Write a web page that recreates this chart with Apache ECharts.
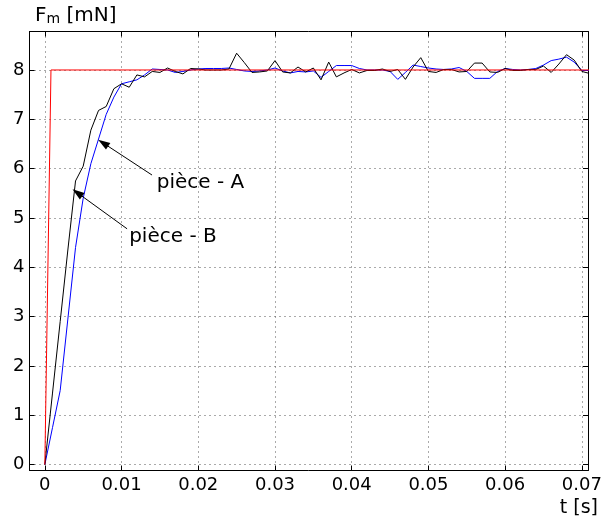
<!DOCTYPE html>
<html>
<head>
<meta charset="utf-8">
<script src="https://cdn.jsdelivr.net/npm/echarts@6/dist/echarts.min.js"></script>
<style>
html,body{margin:0;padding:0;background:#fff;}
#c{width:616px;height:522px;}
</style>
</head>
<body>
<div id="c"></div>
<script>
// ---- data ----
const times = [0,0.001,0.002,0.003,0.004,0.005,0.006,0.007,0.008,0.009,
  0.010,0.011,0.012,0.013,0.014,0.015,0.016,0.017,0.018,0.019,
  0.020,0.021,0.022,0.023,0.024,0.025,0.026,0.027,0.028,0.029,
  0.030,0.031,0.032,0.033,0.034,0.035,0.036,0.037,0.038,0.039,
  0.040,0.041,0.042,0.043,0.044,0.045,0.046,0.047,0.048,0.049,
  0.050,0.051,0.052,0.053,0.054,0.055,0.056,0.057,0.058,0.059,
  0.060,0.061,0.062,0.063,0.064,0.065,0.066,0.067,0.068,0.069,
  0.070,0.071];
const pieceA = [0,1.45,2.9,4.35,5.75,6.05,6.78,7.18,7.26,7.62,
  7.72,7.65,7.9,7.86,7.97,7.95,8.04,7.97,7.92,8.03,
  8.02,8.0,8.0,8.0,8.02,8.34,8.15,7.95,7.96,7.98,
  8.19,7.96,7.94,8.06,7.96,8.04,7.8,8.16,7.86,7.94,
  8.01,7.94,7.99,7.99,8.02,7.97,8.01,7.81,8.06,8.25,
  7.97,7.95,8.01,8.01,7.96,7.97,8.14,8.14,7.96,7.95,
  8.03,7.99,7.99,8.01,8.01,8.08,7.95,8.12,8.31,8.2,
  7.97,7.93];
const pieceB = [0,0.75,1.5,2.95,4.4,5.4,6.1,6.6,7.1,7.45,
  7.72,7.76,7.8,7.9,8.02,8.01,8.0,7.95,7.97,8.0,
  8.02,8.03,8.03,8.03,8.04,8.01,7.98,7.97,7.98,8.0,
  8.04,7.98,7.94,7.97,7.96,7.98,7.85,7.97,8.09,8.09,
  8.09,8.03,8.0,8.0,8.0,7.97,7.81,7.95,8.1,8.07,
  8.04,8.02,8.01,8.02,8.05,7.97,7.83,7.83,7.83,7.97,
  8.03,8.01,8.0,8.01,8.03,8.1,8.19,8.22,8.26,8.16,
  7.99,7.99];
const refT = [0, 0.0008, 0.071];
const refV = [0, 8, 8];
const xTicks = [0,0.01,0.02,0.03,0.04,0.05,0.06,0.07];
const yTicks = [0,1,2,3,4,5,6,7,8];
const labelA = 'pièce - A';
const labelB = 'pièce - B';
// annotation anchors (data units): [tail, tip]
const arrowA = [[0.01397,5.87],[0.0076,6.52]];
const arrowB = [[0.01072,4.78],[0.00424,5.51]];
const textA = [0.0142,5.71];
const textB = [0.0106,4.61];

const FONT = 'DejaVu Sans';
const chart = echarts.init(document.getElementById('c'), null, {renderer:'canvas'});

const grid = {left:29.5, right:28, top:31.5, bottom:51.5};
const XMIN=-0.002, XMAX=0.0708, YMIN=-0.12, YMAX=8.78;

const gridLine = {show:true, lineStyle:{color:'#555', type:[1,4], width:1}};
const axLine = {show:true, onZero:false, lineStyle:{color:'#000', width:1}};

const option = {
  animation:false,
  backgroundColor:'#fff',
  grid: grid,
  xAxis:[
    {type:'value', min:XMIN, max:XMAX, position:'bottom',
     axisLine:axLine,
     axisTick:{show:true, inside:true, length:5, customValues:xTicks, lineStyle:{color:'#000'}},
     axisLabel:{show:true, customValues:xTicks, color:'#000', fontSize:18, fontFamily:FONT, margin:6,
       formatter:v=> (Math.abs(v)<1e-9 ? '0' : v.toFixed(2))},
     splitLine:gridLine},
    {type:'value', min:XMIN, max:XMAX, position:'top',
     axisLine:axLine,
     axisTick:{show:true, inside:true, length:5, customValues:xTicks, lineStyle:{color:'#000'}},
     axisLabel:{show:false}, splitLine:{show:false}}
  ],
  yAxis:[
    {type:'value', min:YMIN, max:YMAX, position:'left',
     axisLine:axLine,
     axisTick:{show:true, inside:true, length:5, customValues:yTicks, lineStyle:{color:'#000'}},
     axisLabel:{show:true, customValues:yTicks, color:'#000', fontSize:18, fontFamily:FONT, margin:5,
       formatter:v=>String(Math.round(v))},
     splitLine:gridLine},
    {type:'value', min:YMIN, max:YMAX, position:'right',
     axisLine:axLine,
     axisTick:{show:true, inside:true, length:5, customValues:yTicks, lineStyle:{color:'#000'}},
     axisLabel:{show:false}, splitLine:{show:false}}
  ],
  series:[
    {type:'line', name:'B', data: times.map((t,i)=>[t,pieceB[i]]), showSymbol:false, symbol:'none',
     itemStyle:{color:'#0000ff'}, lineStyle:{color:'#0000ff', width:1}, clip:true, z:2},
    {type:'line', name:'A', data: times.map((t,i)=>[t,pieceA[i]]), showSymbol:false, symbol:'none',
     itemStyle:{color:'#000'}, lineStyle:{color:'#000', width:1}, clip:true, z:3,
     markLine:{silent:true, symbol:['none','triangle'], symbolSize:[8,12], animation:false,
       itemStyle:{color:'#000'},
       lineStyle:{color:'#000', width:1, type:'solid'}, label:{show:false},
       data:[
         [{coord:arrowA[0]},{coord:arrowA[1]}],
         [{coord:arrowB[0]},{coord:arrowB[1]}]
       ]},
     markPoint:{silent:true, symbol:'circle', symbolSize:0, animation:false,
       itemStyle:{color:'rgba(0,0,0,0)'},
       label:{show:true, position:'right', distance:3, color:'#000', fontSize:20, fontFamily:FONT},
       data:[
         {coord:textA, label:{formatter:labelA}},
         {coord:textB, label:{formatter:labelB}}
       ]}
    },
    {type:'line', name:'ref', data: refT.map((t,i)=>[t,refV[i]]), showSymbol:false, symbol:'none',
     itemStyle:{color:'#ff0000'}, lineStyle:{color:'#ff0000', width:1}, clip:true, z:4}
  ],
  graphic:[
    {type:'text', left:35, top:6, z:10,
     style:{text:'{a|F}{b|m}{a| [mN]}', rich:{
       a:{fontSize:20, fontFamily:FONT, fill:'#000', verticalAlign:'bottom', lineHeight:22},
       b:{fontSize:14, fontFamily:FONT, fill:'#000', verticalAlign:'bottom', lineHeight:21}
     }}},
    {type:'text', right:18, top:499, z:10,
     style:{text:'t [s]', fontSize:19, fontFamily:FONT, fill:'#000'}}
  ]
};
chart.setOption(option);
</script>
</body>
</html>
